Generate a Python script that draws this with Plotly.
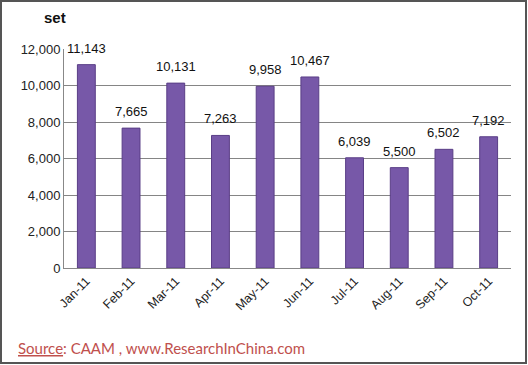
import plotly.graph_objects as go

months = ["Jan-11", "Feb-11", "Mar-11", "Apr-11", "May-11", "Jun-11",
          "Jul-11", "Aug-11", "Sep-11", "Oct-11"]
values = [11143, 7665, 10131, 7263, 9958, 10467, 6039, 5500, 6502, 7192]
y_ticks = [0, 2000, 4000, 6000, 8000, 10000, 12000]

W, H = 528, 365
L, R, T, B = 64, 17, 49, 97
pw, ph = W - L - R, H - T - B

def px(x):
    return (x - L) / pw

def py(y):
    return (H - B - y) / ph

fig = go.Figure()
fig.add_trace(go.Bar(
    x=months, y=values,
    width=0.4,
    marker=dict(color="#7758A8", line=dict(color="#5A3E86", width=1)),
    hoverinfo="skip",
))

label_annotations = [
    dict(x=m, y=v, xref="x", yref="y", text=f"{v:,}",
         showarrow=False, yanchor="bottom", xanchor="center", yshift=7,
         font=dict(family="Arial, Liberation Sans", size=13, color="#111"))
    for m, v in zip(months, values)
]

fig.update_layout(
    width=W, height=H,
    margin=dict(l=L, r=R, t=T, b=B, autoexpand=False),
    paper_bgcolor="white", plot_bgcolor="white",
    showlegend=False,
    font=dict(family="Arial, Liberation Sans", size=13, color="#222"),
    xaxis=dict(
        tickangle=-45,
        tickfont=dict(size=12.5),
        showline=True, linecolor="#888", linewidth=1,
        ticks="", showgrid=False, automargin=False,
    ),
    yaxis=dict(
        range=[0, 12000],
        tickvals=y_ticks,
        ticktext=[f"{v:,}" for v in y_ticks],
        showgrid=True, gridcolor="#858585", gridwidth=1,
        showline=True, linecolor="#888", linewidth=1,
        ticks="", ticklen=0, zeroline=False, automargin=False,
        tickfont=dict(size=13),
    ),
    shapes=[dict(
        type="rect", xref="paper", yref="paper",
        x0=px(1), x1=px(526), y0=py(363), y1=py(1),
        line=dict(color="#555", width=2), fillcolor="rgba(0,0,0,0)",
    )],
    annotations=label_annotations + [
        dict(text="<b>set</b>", xref="paper", yref="paper",
             x=px(42), y=py(18), xanchor="left", yanchor="middle",
             showarrow=False, font=dict(size=15, color="#111")),
        dict(text="<u>Source</u>: CAAM , www.ResearchInChina.com",
             xref="paper", yref="paper",
             x=px(16), y=py(348), xanchor="left", yanchor="middle",
             showarrow=False,
             font=dict(family="Lato, Open Sans", size=15, color="#C0504D")),
    ],
)

fig.write_html(
    "out.html",
    config={"displayModeBar": False},
    post_script="document.body.style.margin='0';document.body.style.overflow='hidden';",
)
